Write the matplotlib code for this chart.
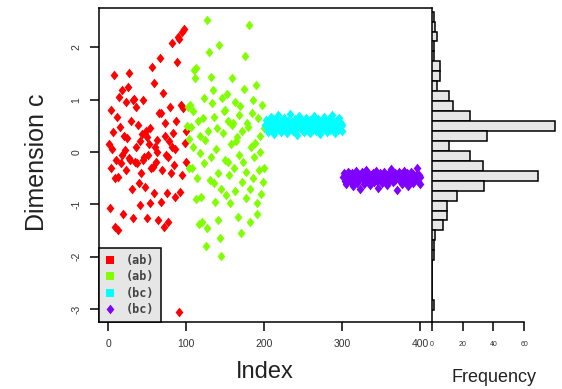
import numpy as np
import matplotlib
matplotlib.use("Agg")
import matplotlib.pyplot as plt
from matplotlib.lines import Line2D

# y values of the four groups, in index order
red_y = [0.15, -1.08, -0.30, 0.80, 0.05, 0.38, 1.47, -0.50, -1.44, -0.16,
         0.66, -0.48, -1.50, 1.05, 0.47, -0.22, 1.18, -0.05, -1.18, 0.30,
         0.03, -0.35, 0.95, 0.26, 1.24, -0.12, 1.50, -0.16, 0.60, -0.70,
         1.00, -1.27, 1.02, -0.20, 0.10, 0.85, -0.22, 0.51, -0.60, 0.20,
         -1.02, -0.41, 0.35, -0.15, 0.99, -0.10, -0.67, 0.40, 0.28, -1.27,
         -0.05, 0.15, -0.98, 0.45, -0.30, 1.62, -0.29, 1.31, -0.79, 0.10,
         -0.20, 0.22, 0.00, -1.31, 0.75, 1.79, -0.96, 0.74, -0.35, 1.12,
         -1.44, 0.30, 0.55, -0.05, -0.79, -0.10, -1.34, 0.20, 0.85, -0.40,
         2.08, 0.10, 0.36, -0.25, -0.86, 0.05, 0.60, 1.72, 2.20, -3.05,
         2.15, -0.77, 0.90, 2.29, -0.45, 0.83, 2.35, 0.17, -0.20, 0.40]
green_y = [0.50, 0.86, 0.25, -0.30, 0.89, 0.47, -0.31, 0.10, 0.78, 1.56,
           1.41, 1.60, -0.90, -0.50, 0.59, -1.37, 0.30, -0.03, -0.87, -1.34,
           0.65, -0.22, 1.03, 0.22, -1.80, 2.52, -1.46, 0.40, 1.91, -0.54,
           1.43, -0.10, 0.93, 1.18, 0.66, -0.60, -0.96, 0.05, 0.45, -0.41,
           -1.31, 2.04, -1.65, -0.70, -1.99, 1.03, 0.36, 0.78, -0.15, 0.80,
           -0.83, 1.10, -0.20, 0.60, -0.45, -0.98, 0.15, 1.41, 0.51, 0.55,
           -0.30, 0.95, -0.75, 0.20, 0.28, -1.25, -0.05, 0.70, 0.87, -1.54,
           -0.58, 0.40, -0.20, 1.20, 1.83, -0.39, -0.89, 0.55, 0.47, 2.42,
           -0.70, -1.34, 0.10, 0.75, -0.50, 1.00, -0.10, 0.17, 1.27, -0.98,
           -1.18, 0.64, -0.35, 0.00, 0.30, -0.80, 0.89, -0.58, -0.31, 0.45]
cyan_y = [0.52, 0.61, 0.44, 0.55, 0.38, 0.49, 0.58, 0.47, 0.66, 0.41,
          0.53, 0.35, 0.50, 0.62, 0.45, 0.57, 0.43, 0.70, 0.48, 0.54,
          0.39, 0.59, 0.51, 0.46, 0.64, 0.42, 0.56, 0.50, 0.36, 0.60,
          0.47, 0.53, 0.72, 0.44, 0.58, 0.49, 0.40, 0.55, 0.63, 0.45,
          0.51, 0.33, 0.57, 0.48, 0.68, 0.52, 0.43, 0.60, 0.46, 0.54,
          0.38, 0.59, 0.50, 0.65, 0.42, 0.55, 0.47, 0.61, 0.37, 0.53,
          0.49, 0.57, 0.44, 0.69, 0.51, 0.40, 0.56, 0.46, 0.62, 0.48,
          0.54, 0.35, 0.58, 0.45, 0.52, 0.66, 0.43, 0.50, 0.60, 0.39,
          0.55, 0.47, 0.63, 0.41, 0.53, 0.49, 0.71, 0.44, 0.57, 0.36,
          0.51, 0.59, 0.46, 0.54, 0.42, 0.64, 0.48, 0.56, 0.40, 0.52]
purple_y = [-0.48, -0.41, -0.55, -0.44, -0.62, -0.50, -0.38, -0.46, -0.53, -0.43,
            -0.57, -0.47, -0.40, -0.66, -0.45, -0.51, -0.36, -0.49, -0.59, -0.42,
            -0.52, -0.44, -0.70, -0.48, -0.39, -0.54, -0.46, -0.61, -0.43, -0.50,
            -0.35, -0.56, -0.47, -0.42, -0.64, -0.49, -0.45, -0.53, -0.40, -0.58,
            -0.46, -0.51, -0.37, -0.55, -0.44, -0.68, -0.48, -0.41, -0.52, -0.47,
            -0.60, -0.43, -0.50, -0.38, -0.54, -0.45, -0.63, -0.49, -0.42, -0.56,
            -0.46, -0.33, -0.51, -0.47, -0.58, -0.44, -0.40, -0.53, -0.48, -0.72,
            -0.45, -0.50, -0.39, -0.55, -0.43, -0.61, -0.47, -0.52, -0.36, -0.49,
            -0.57, -0.44, -0.41, -0.65, -0.48, -0.53, -0.46, -0.38, -0.51, -0.42,
            -0.59, -0.47, -0.54, -0.44, -0.50, -0.31, -0.56, -0.45, -0.62, -0.48]

groups = [red_y, green_y, cyan_y, purple_y]
colors = ["#FF0000", "#80FF00", "#00FFFF", "#8000FF"]
labels = ["(ab)", "(ab)", "(bc)", "(bc)"]

# histogram counts, from the top bin downwards
hist_top = 2.68
hist_w = 0.19
hist_counts = [1, 2, 3, 1, 1, 5, 5, 3, 11, 14, 25, 80, 36, 11, 25,
               33, 69, 34, 16, 10, 10, 7, 2, 1, 1, 0, 0, 0, 0, 1]

x_ticks = [0, 100, 200, 300, 400]
y_ticks = [-3, -2, -1, 0, 1, 2]
f_ticks = [0, 20, 40, 60]

plt.rcParams["font.family"] = ["Liberation Sans", "DejaVu Sans"]
W, H = 562, 389
fig = plt.figure(figsize=(W / 100, H / 100), dpi=100)
ax = fig.add_axes([99 / W, 1 - 322 / H, 333 / W, 314 / H])
ax_h = fig.add_axes([432 / W, 1 - 322 / H, 128 / W, 314 / H])

diamond = [(0, 1), (0.8, 0), (0, -1), (-0.8, 0)]
start = 1
for ys, c in zip(groups, colors):
    idx = np.arange(start, start + len(ys))
    ax.plot(idx, ys, ls="none", marker=diamond, ms=7, mew=0, color=c)
    start += len(ys)

ax.set_xlim(-12, 415)
ax.set_ylim(-3.25, 2.75)
ax.set_xticks(x_ticks)
ax.set_yticks(y_ticks)
ax.set_yticklabels([str(v) for v in y_ticks], rotation=90, va="center")
ax.tick_params(length=6.5, width=1.1, pad=6, labelsize=7.5, labelcolor="#333333")
for s in ax.spines.values():
    s.set_linewidth(1.1)

handles = [Line2D([], [], ls="none", marker="s", ms=5.5, mew=0, color=c) for c in colors[:3]]
handles.append(Line2D([], [], ls="none", marker=diamond, ms=7, mew=0, color=colors[3]))
leg = ax.legend(handles, labels, loc="lower left", bbox_to_anchor=(0, 0),
                borderaxespad=0, fancybox=False, framealpha=1,
                facecolor="#E6E6E6", edgecolor="black",
                prop={"family": "DejaVu Sans Mono", "size": 8.5, "weight": "bold"},
                handlelength=0.8, handletextpad=1.0, labelspacing=0.28,
                borderpad=0.5)
leg.get_frame().set_linewidth(1.1)
for t in leg.get_texts():
    t.set_color("#444444")

# side histogram
edges = hist_top - hist_w * np.arange(len(hist_counts) + 1)
centers = (edges[:-1] + edges[1:]) / 2
ax_h.barh(centers, hist_counts, height=hist_w, color="#E6E6E6",
          edgecolor="black", linewidth=1.1)
ax_h.set_ylim(ax.get_ylim())
ax_h.set_xlim(0, 128 / 1.535)
ax_h.set_xticks(f_ticks)
ax_h.set_yticks([])
ax_h.tick_params(axis="x", length=6.5, width=1.1, pad=7, labelsize=5,
                 labelcolor="#333333")
for side in ["top", "right", "left"]:
    ax_h.spines[side].set_visible(False)
ax_h.spines["bottom"].set_bounds(0, 60)
ax_h.spines["bottom"].set_linewidth(1.1)
ax_h.patch.set_alpha(0)

fig.text(37 / W, 1 - 162 / H, "Dimension c", fontsize=18, color="#222222",
         rotation=90, ha="center", va="center")
fig.text(265 / W, 1 - 372 / H, "Index", fontsize=17, color="#222222",
         ha="center", va="center")
fig.text(494 / W, 1 - 377 / H, "Frequency", fontsize=13, color="#222222",
         ha="center", va="center")

fig.savefig("out.png", dpi=100)
